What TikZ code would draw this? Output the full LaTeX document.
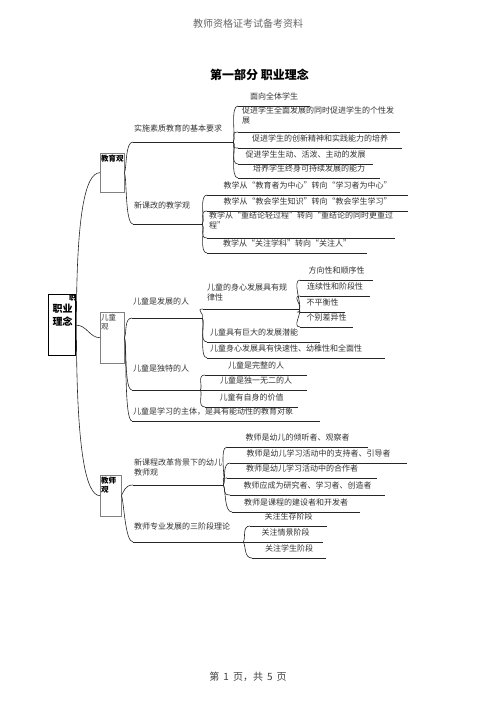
\documentclass[tikz,border=0pt]{standalone}
\usepackage{fontspec}
\newfontfamily\cjk{Noto Sans CJK SC}
\usepackage{tikz}

\begin{document}
\begin{tikzpicture}[x=1pt,y=1pt,
    every node/.style={font=\cjk\fontsize{8}{9.5}\selectfont},
    link/.style={black!85,line width=0.6pt},
    rise/.style={out=60,in=180,out distance=5pt,in distance=8pt},
    fall/.style={out=-60,in=180,out distance=5pt,in distance=8pt},
    topic/.style={anchor=south west,inner xsep=0pt,inner ysep=6pt,text=black!80,
      append after command={(\tikzlastnode.south west) edge[link] (\tikzlastnode.south east)}},
    lefttopic/.style={topic,align=left,inner xsep=1pt},
    branch/.style={draw=black!50,line width=0.4pt,anchor=north west,inner sep=1pt,
      text width=22pt,align=left,text height=7pt,font=\cjk\bfseries\fontsize{7.5}{9}\selectfont},
  ]
  \useasboundingbox (0,0) rectangle (496,702);

  \node[text=black!60,font=\cjk\fontsize{10}{12}\selectfont] (head) at (248,678) {教师资格证考试备考资料};
  \node[font=\cjk\bfseries\fontsize{12}{14}\selectfont] (title) at (259.5,627) {第一部分\ 职业理念};
  \node[text=black!75,font=\cjk\fontsize{10}{12}\selectfont] (foot) at (248,25) {第\hspace{4pt}1\hspace{4pt}页，共\hspace{4pt}5\hspace{4pt}页};

  \node[draw,line width=1.4pt,anchor=north west,inner xsep=4pt,inner ysep=1pt,text width=19pt,
    align=left,text height=17pt,text depth=42pt,font=\cjk\bfseries\fontsize{10}{13}\selectfont] (root) at (48,408) {职业\\理念};
  \node[anchor=north east,inner sep=0.5pt,font=\cjk\bfseries\fontsize{6.5}{7}\selectfont] (rootcut) at (root.north east) {职};

  \node[branch,text depth=30pt] (jyg) at (100,549) {教育观};
  \node[branch,text depth=42pt,font=\cjk\fontsize{7.5}{9}\selectfont,text=black!80] (etg) at (100,390) {儿童\\观};
  \node[branch,text width=19pt,text depth=32pt] (jsg) at (100,227) {教师\\观};

  \draw[link] (root.east) to[out=90,in=180,out distance=110pt,in distance=15pt] (jyg.west);
  \draw[link] (root.east) to[out=0,in=180] (etg.west);
  \draw[link] (root.east) to[out=-90,in=180,out distance=120pt,in distance=15pt] (jsg.west);

  \node[lefttopic,text width=98pt,inner ysep=10pt] (ss) at (133,560) {实施素质教育的基本要求};
  \node[lefttopic,text width=67pt,inner ysep=15pt] (xkg) at (133,478) {新课改的教学观};
  \node[lefttopic,text width=68pt,inner ysep=13pt] (fz) at (132,384) {儿童是发展的人};
  \node[lefttopic,text width=66pt,inner ysep=18pt] (dt) at (132,312) {儿童是独特的人};
  \node[lefttopic,text width=186pt,inner ysep=5pt] (zt) at (132,281) {儿童是学习的主体，是具有能动性的教育对象};
  \node[lefttopic,text width=88pt,inner ysep=9pt] (xkc) at (133,217) {新课程改革背景下的幼儿\\教师观};
  \node[lefttopic,text width=108pt,inner ysep=12pt] (sjd) at (133,160) {教师专业发展的三阶段理论};

  \node[topic,minimum width=72pt] (a1) at (238,596) {面向全体学生};
  \node[topic,align=left,text width=154pt,inner xsep=4pt,inner ysep=8pt] (a2) at (238,570) {促进学生全面发展的同时促进学生的个性发\\展};
  \node[topic,minimum width=164pt] (a3) at (238,554) {促进学生的创新精神和实践能力的培养};
  \node[topic,minimum width=135pt] (a4) at (238,538) {促进学生生动、活泼、主动的发展};
  \node[topic,minimum width=142pt] (a5) at (238,524) {培养学生终身可持续发展的能力};

  \node[topic,minimum width=201pt] (b1) at (207,507) {教学从“教育者为中心”转向“学习者为中心”};
  \node[topic,minimum width=201pt] (b2) at (207,491) {教学从“教会学生知识”转向“教会学生学习”};
  \node[topic,align=left,text width=184pt,inner xsep=2pt,inner ysep=9pt] (b3) at (207,464) {教学从“重结论轻过程”转向“重结论的同时更重过\\程”};
  \node[topic,minimum width=160pt] (b4) at (207,449) {教学从“关注学科”转向“关注人”};

  \node[topic,align=left,text width=88pt,inner xsep=4pt,inner ysep=8pt] (c1) at (203,393) {儿童的身心发展具有规\\律性};
  \node[topic,align=left,text width=107pt,inner xsep=3pt] (c2) at (207,360) {儿童具有巨大的发展潜能};
  \node[topic,align=left,text width=172pt,inner xsep=3pt] (c3) at (207,344) {儿童身心发展具有快速性、幼稚性和全面性};

  \node[topic,minimum width=73pt] (d1) at (300,422) {方向性和顺序性};
  \node[topic,minimum width=70pt] (d2) at (300,406) {连续性和阶段性};
  \node[topic,minimum width=45pt] (d3) at (300,390) {不平衡性};
  \node[topic,minimum width=53pt] (d4) at (300,375) {个别差异性};

  \node[topic,minimum width=102pt] (e1) at (205,327) {儿童是完整的人};
  \node[topic,minimum width=102pt] (e2) at (205,312) {儿童是独一无二的人};
  \node[topic,minimum width=93pt] (e3) at (205,295) {儿童有自身的价值};

  \node[topic,minimum width=141pt] (f1) at (227,255) {教师是幼儿的倾听者、观察者};
  \node[topic,minimum width=177pt] (f2) at (230,239) {教师是幼儿学习活动中的支持者、引导者};
  \node[topic,minimum width=150pt] (f3) at (227,224) {教师是幼儿学习活动中的合作者};
  \node[topic,minimum width=155pt] (f4) at (230,207) {教师应成为研究者、学习者、创造者};
  \node[topic,minimum width=128pt] (f5) at (232,190) {教师是课程的建设者和开发者};

  \node[topic,minimum width=77pt] (g1) at (250,176) {关注生存阶段};
  \node[topic,minimum width=75pt] (g2) at (248,160) {关注情景阶段};
  \node[topic,minimum width=74pt] (g3) at (252,144) {关注学生阶段};

  \draw[link] (jyg.east) to[rise] (ss.south west);
  \draw[link] (jyg.east) to[fall] (xkg.south west);
  \draw[link] (etg.east) to[rise] (fz.south west);
  \foreach \c in {dt,zt} \draw[link] (etg.east) to[fall] (\c.south west);
  \draw[link] (jsg.east) to[rise] (xkc.south west);
  \draw[link] (jsg.east) to[fall] (sjd.south west);

  \foreach \c in {a1,a2} \draw[link] (ss.south east) to[rise] (\c.south west);
  \foreach \c in {a3,a4,a5} \draw[link] (ss.south east) to[fall] (\c.south west);
  \foreach \c in {b1,b2} \draw[link] (xkg.south east) to[rise] (\c.south west);
  \foreach \c in {b3,b4} \draw[link] (xkg.south east) to[fall] (\c.south west);
  \draw[link] (fz.south east) to[rise] (c1.south west);
  \foreach \c in {c2,c3} \draw[link] (fz.south east) to[fall] (\c.south west);
  \foreach \c in {d1,d2} \draw[link] (c1.south east) to[rise] (\c.south west);
  \foreach \c in {d3,d4} \draw[link] (c1.south east) to[fall] (\c.south west);
  \draw[link] (dt.south east) to[rise] (e1.south west);
  \draw[link] (dt.south east) -- (e2.south west);
  \draw[link] (dt.south east) to[fall] (e3.south west);
  \foreach \c in {f1,f2,f3} \draw[link] (xkc.south east) to[rise] (\c.south west);
  \foreach \c in {f4,f5} \draw[link] (xkc.south east) to[fall] (\c.south west);
  \draw[link] (sjd.south east) to[rise] (g1.south west);
  \draw[link] (sjd.south east) -- (g2.south west);
  \draw[link] (sjd.south east) to[fall] (g3.south west);
\end{tikzpicture}
\end{document}
